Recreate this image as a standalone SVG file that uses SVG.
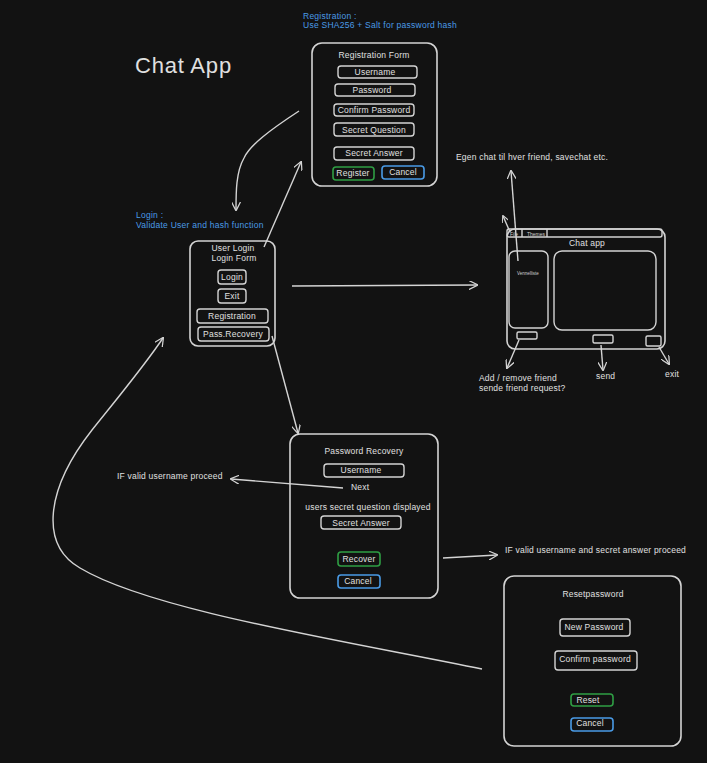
<svg xmlns="http://www.w3.org/2000/svg" width="707" height="763" viewBox="0 0 707 763">
<defs>
<marker id="ah" viewBox="0 0 10 10" refX="9" refY="5" markerWidth="9" markerHeight="9" markerUnits="userSpaceOnUse" orient="auto">
<path d="M0,0 L10,5 L0,10" fill="none" stroke="#d4d4d4" stroke-width="1.4"/>
</marker>
<marker id="ahs" viewBox="0 0 10 10" refX="9" refY="5" markerWidth="7" markerHeight="7" markerUnits="userSpaceOnUse" orient="auto">
<path d="M0,0 L10,5 L0,10" fill="none" stroke="#d4d4d4" stroke-width="1.4"/>
</marker>
</defs>
<style>
.box{fill:none;stroke:#d4d4d4;stroke-width:1.6}
.btn{fill:none;stroke:#d4d4d4;stroke-width:1.4}
.g{fill:none;stroke:#2f9e44;stroke-width:1.6}
.b{fill:none;stroke:#4a9be6;stroke-width:1.6}
.t{font-family:"Liberation Sans",Arial,sans-serif;font-size:8.5px;fill:#e0e0e0;letter-spacing:0.2px}
.c{text-anchor:middle}
.n{font-family:"Liberation Sans",Arial,sans-serif;font-size:8.5px;fill:#4a9be6;letter-spacing:0.25px}
.ln{fill:none;stroke:#d4d4d4;stroke-width:1.4}
</style>
<rect width="707" height="763" fill="#121212"/>

<text x="135" y="73" font-family="Liberation Sans, Arial, sans-serif" font-size="22" letter-spacing="0.8" fill="#e0e0e0">Chat App</text>

<g id="reg-note">
<text class="n" x="303" y="19">Registration :</text>
<text class="n" x="303" y="28">Use SHA256 + Salt for password hash</text>
</g>

<g id="registration-form">
<rect class="box" x="312" y="43" width="125" height="143" rx="10"/>
<text class="t c" x="374" y="58">Registration Form</text>
<rect class="btn" x="338" y="66" width="79" height="12" rx="3"/>
<text class="t c" x="375" y="75">Username</text>
<rect class="btn" x="335" y="84" width="80" height="12" rx="3"/>
<text class="t c" x="372" y="93">Password</text>
<rect class="btn" x="334" y="104" width="80" height="12" rx="3"/>
<text class="t c" x="374" y="113">Confirm Password</text>
<rect class="btn" x="334" y="123" width="80" height="13" rx="3"/>
<text class="t c" x="374" y="133">Secret Question</text>
<rect class="btn" x="334" y="147" width="80" height="13" rx="3"/>
<text class="t c" x="374" y="156">Secret Answer</text>
<rect class="g" x="333" y="167" width="41" height="13" rx="3"/>
<text class="t c" x="353" y="176">Register</text>
<rect class="b" x="382" y="166" width="42" height="13" rx="3"/>
<text class="t c" x="403" y="175">Cancel</text>
</g>

<g id="login-note">
<text class="n" x="136" y="218">Login :</text>
<text class="n" x="136" y="228">Validate User and hash function</text>
</g>

<g id="login-form">
<rect class="box" x="190" y="241" width="85" height="105" rx="8"/>
<text class="t c" x="233" y="251">User Login</text>
<text class="t c" x="234" y="261">Login Form</text>
<rect class="btn" x="218" y="270" width="28" height="14" rx="3"/>
<text class="t c" x="232" y="280">Login</text>
<rect class="btn" x="218" y="289" width="28" height="14" rx="3"/>
<text class="t c" x="232" y="299">Exit</text>
<rect class="btn" x="197" y="309" width="71" height="14" rx="3"/>
<text class="t c" x="232" y="319">Registration</text>
<rect class="btn" x="198" y="327" width="71" height="14" rx="3"/>
<text class="t c" x="233" y="337">Pass.Recovery</text>
</g>

<g id="chat-app">
<rect class="box" x="507" y="229" width="158" height="120" rx="8"/>
<rect class="btn" x="507" y="229" width="155" height="8" rx="2"/>
<line class="ln" x1="522" y1="229" x2="522" y2="237"/>
<line class="ln" x1="547" y1="229" x2="547" y2="237"/>
<text x="510" y="235.5" font-family="Liberation Sans, Arial, sans-serif" font-size="5" fill="#cfcfcf">File</text>
<text x="527" y="235.5" font-family="Liberation Sans, Arial, sans-serif" font-size="5" fill="#cfcfcf">Themes</text>
<text class="t c" x="587" y="246">Chat app</text>
<rect class="btn" x="509" y="251" width="39" height="77" rx="6"/>
<text x="528" y="275" text-anchor="middle" font-family="Liberation Sans, Arial, sans-serif" font-size="4.5" fill="#cfcfcf">Vennelliste</text>
<rect class="btn" x="554" y="251" width="102" height="79" rx="8"/>
<rect class="btn" x="517" y="332" width="20" height="7" rx="1.5"/>
<rect class="btn" x="593" y="335" width="20" height="8" rx="1.5"/>
<rect class="btn" x="646" y="336" width="15" height="10" rx="1.5"/>
</g>

<g id="chat-notes">
<text class="t" x="456" y="160">Egen chat til hver friend, savechat etc.</text>
<text class="t" x="479" y="381">Add / remove friend</text>
<text class="t" x="479" y="391">sende friend request?</text>
<text class="t" x="596" y="379">send</text>
<text class="t" x="665" y="377">exit</text>
</g>

<g id="password-recovery">
<rect class="box" x="290" y="434" width="148" height="164" rx="10"/>
<text class="t c" x="364" y="454">Password Recovery</text>
<rect class="btn" x="324" y="464" width="80" height="13" rx="3"/>
<text class="t c" x="361" y="473">Username</text>
<text class="t" x="351" y="490">Next</text>
<text class="t c" x="368" y="510">users secret question displayed</text>
<rect class="btn" x="321" y="516" width="80" height="13" rx="3"/>
<text class="t c" x="361" y="526">Secret Answer</text>
<rect class="g" x="338" y="552" width="42" height="14" rx="3"/>
<text class="t c" x="359" y="562">Recover</text>
<rect class="b" x="338" y="575" width="42" height="13" rx="3"/>
<text class="t c" x="358" y="584">Cancel</text>
</g>

<g id="recovery-notes">
<text class="t" x="117" y="479">IF valid username proceed</text>
<text class="t" x="505" y="553">IF valid username and secret answer proceed</text>
</g>

<g id="reset-password">
<rect class="box" x="504" y="576" width="177" height="170" rx="10"/>
<text class="t c" x="593" y="597">Resetpassword</text>
<rect class="btn" x="560" y="619" width="70" height="17" rx="3"/>
<text class="t c" x="594" y="630">New Password</text>
<rect class="btn" x="555" y="651" width="82" height="19" rx="3"/>
<text class="t c" x="595" y="662">Confirm password</text>
<rect class="g" x="571" y="694" width="42" height="12" rx="3"/>
<text class="t c" x="588" y="703">Reset</text>
<rect class="b" x="571" y="718" width="42" height="13" rx="3"/>
<text class="t c" x="590" y="726">Cancel</text>
</g>

<g id="connectors">
<path class="ln" d="M299,111 C270,130 250,145 244,158 C236,172 236,192 236,210" marker-end="url(#ah)"/>
<path class="ln" d="M264,247 L301,162" marker-end="url(#ah)"/>
<path class="ln" d="M292,286 L477,285" marker-end="url(#ah)"/>
<path class="ln" d="M272,336 L298,433" marker-end="url(#ah)"/>
<path class="ln" d="M482,669 C340,640 150,610 80,568 C40,545 45,490 92,430 C120,395 145,365 163,338" marker-end="url(#ah)"/>
<path class="ln" d="M343,488 L231,479" marker-end="url(#ah)"/>
<path class="ln" d="M443,558 L497,555" marker-end="url(#ah)"/>
<path class="ln" d="M518,261 L511,171" marker-end="url(#ah)"/>
<path class="ln" d="M510,232 L503,216" marker-end="url(#ahs)"/>
<path class="ln" d="M519,340 L507,368" marker-end="url(#ah)"/>
<path class="ln" d="M601,345 L603,370" marker-end="url(#ah)"/>
<path class="ln" d="M659,347 L669,364" marker-end="url(#ah)"/>
</g>
</svg>
